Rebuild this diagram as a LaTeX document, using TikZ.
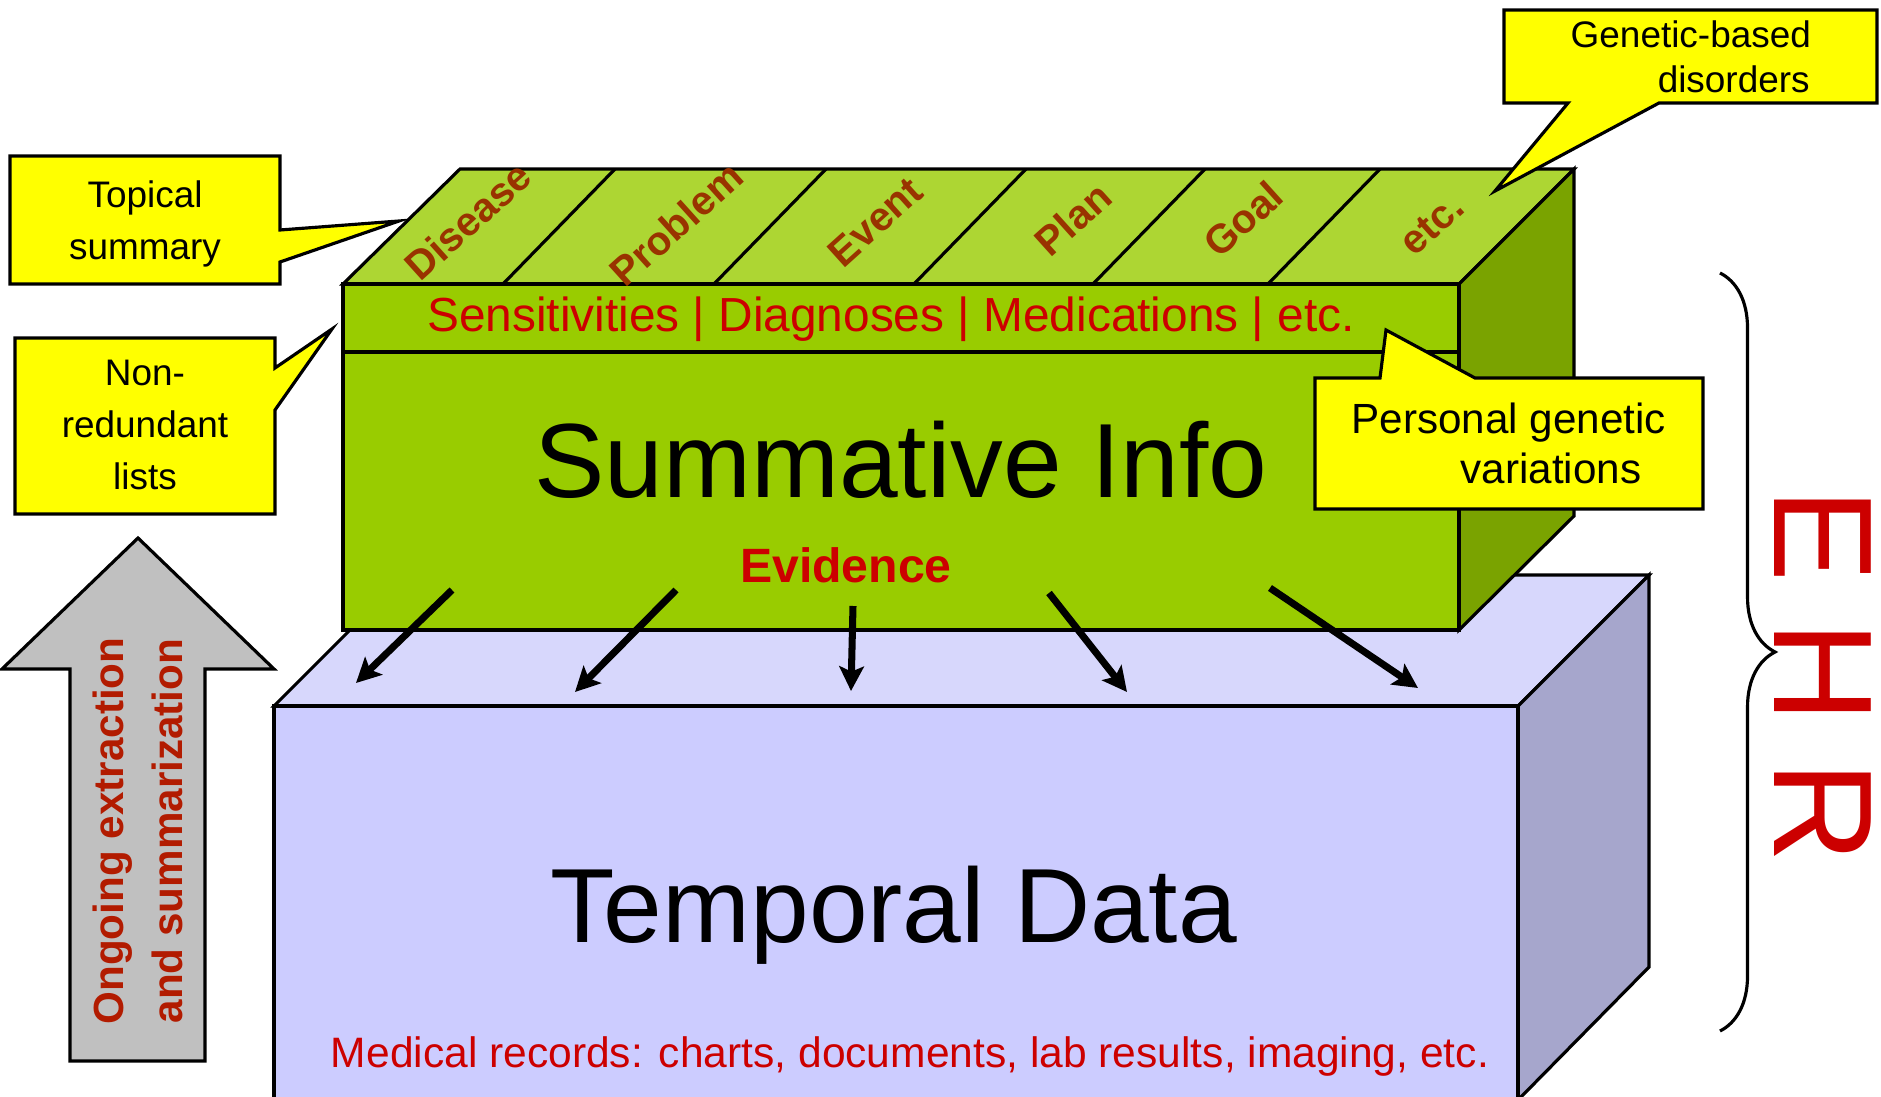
\documentclass[tikz,border=0pt]{standalone}
\usepackage{fontspec}
\setmainfont{Liberation Sans}
\usetikzlibrary{arrows.meta, decorations.pathreplacing}
\definecolor{summgreen}{RGB}{153,204,0}
\definecolor{summgreentop}{RGB}{173,214,51}
\definecolor{summgreenside}{RGB}{122,163,0}
\definecolor{tempblue}{RGB}{204,204,255}
\definecolor{tempbluetop}{RGB}{215,215,252}
\definecolor{tempblueside}{RGB}{166,166,204}
\definecolor{noteyellow}{RGB}{255,255,0}
\definecolor{myred}{RGB}{204,0,0}
\definecolor{topicbrown}{RGB}{153,51,0}
\definecolor{arrowred}{RGB}{178,27,0}
\definecolor{arrowgrey}{RGB}{192,192,192}

\begin{document}
\begin{tikzpicture}[x=0.01cm, y=-0.01cm, >={Stealth[length=7pt, width=7pt, inset=1.5pt]}]

	\tikzstyle{face}=[draw=black, line width=0.9pt]
	\tikzstyle{note}=[draw=black, line width=0.9pt, fill=noteyellow]
	\tikzstyle{txt}=[inner sep=0pt]
	\tikzstyle{topic}=[txt, rotate=42, text=topicbrown, font=\bfseries\fontsize{11.5}{13}\selectfont]
	\tikzstyle{noteleft}=[txt, align=center, font=\fontsize{10.5}{14.8}\selectfont]
	\tikzstyle{evidence}=[->, line width=2pt]

	\useasboundingbox (0,0) rectangle (1881,1097);

	% temporal data block
	\filldraw[face, fill=tempbluetop] (274,706) -- (405,575) -- (1649,575) -- (1518,706) -- cycle;
	\filldraw[face, fill=tempblueside] (1518,706) -- (1649,575) -- (1649,967) -- (1518,1100) -- cycle;
	\filldraw[face, fill=tempblue] (274,706) rectangle (1518,1100);

	% summative info block
	\filldraw[face, fill=summgreentop] (343,284) -- (460,169) -- (1574,169) -- (1459,284) -- cycle;
	\filldraw[face, fill=summgreenside] (1459,284) -- (1574,169) -- (1574,516) -- (1459,630) -- cycle;
	\filldraw[face, fill=summgreen] (343,284) rectangle (1459,630);
	\draw[face] (343,352) -- (1459,352);
	\foreach \x in {503,714,914,1093,1268}
		\draw[face] (\x,284) -- ++(112,-115);

	\foreach \name/\x/\y [count=\i] in {Disease/468/221, Problem/676/224, Event/875/222, Plan/1073/219, Goal/1243/219, etc./1432/225}
		\node at (\x,\y) (topic\i) [topic] {\name};

	\node at (891,332) (lists) [txt, anchor=base, text=myred, font=\fontsize{13.6}{16}\selectfont] {Sensitivities | Diagnoses | Medications | etc.};
	\node at (901,498) (summative) [txt, anchor=base, font=\fontsize{30}{36}\selectfont] {Summative Info};
	\node at (846,582) (evidence) [txt, anchor=base, text=myred, font=\bfseries\fontsize{13.7}{17}\selectfont] {Evidence};
	\node at (894,942) (temporal) [txt, anchor=base, font=\fontsize{30}{36}\selectfont] {Temporal Data};
	\node at (910,1067) (records) [txt, anchor=base, text=myred, font=\fontsize{12.1}{15}\selectfont] {Medical records: charts, documents, lab results, imaging, etc.};

	% evidence arrows
	\foreach \sx/\sy/\ex/\ey [count=\i] in {452/590/356/683, 676/590/575/692, 853/606/851/691, 1049/593/1127/692, 1270/588/1418/688}
	{
		\coordinate (from\i) at (\sx,\sy);
		\coordinate (to\i) at (\ex,\ey);
		\draw[evidence] (from\i) -- (to\i);
	}

	% callouts
	\filldraw[note] (10,156) -- (280,156) -- (280,230) -- (399,221) -- (280,262) -- (280,284) -- (10,284) -- cycle;
	\node at (145,224) (topical) [noteleft] {Topical\\summary};
	\filldraw[note] (15,338) -- (275,338) -- (275,368) -- (332,329) -- (275,410) -- (275,514) -- (15,514) -- cycle;
	\node at (145,425) (nonredundant) [noteleft] {Non-\\redundant\\lists};
	\filldraw[note] (1504,10) -- (1877,10) -- (1877,103) -- (1659,103) -- (1495,191) -- (1568,103) -- (1504,103) -- cycle;
	\node at (1570,20) (genetic) [txt, anchor=north west, align=left, font=\fontsize{10.5}{12.8}\selectfont] {Genetic-based\\\hspace*{0.87cm}disorders};
	\filldraw[note] (1315,378) -- (1380,378) -- (1386,330) -- (1475,378) -- (1703,378) -- (1703,509) -- (1315,509) -- cycle;
	\node at (1351,402) (personal) [txt, anchor=north west, align=left, font=\fontsize{12}{14.2}\selectfont] {Personal genetic\\\hspace*{1.09cm}variations};

	% extraction arrow
	\filldraw[draw=black, line width=0.9pt, fill=arrowgrey] (70,1061) -- (70,669) -- (2,669) -- (138,538) -- (274,669) -- (205,669) -- (205,1061) -- cycle;
	\node at (138,831) (ongoing) [txt, rotate=90, align=center, text=arrowred, font=\bfseries\fontsize{12}{17}\selectfont] {Ongoing extraction\\and summarization};

	% EHR brace
	\coordinate (bracetop) at (1720,273);
	\coordinate (bracebottom) at (1720,1031);
	\draw[line width=0.9pt, decorate, decoration={brace, amplitude=0.55cm}] (bracetop) -- (bracebottom);
	\node at (1823,676) (ehr) [txt, rotate=-90, text=myred, font=\fontsize{40}{48}\selectfont] {E H R};
\end{tikzpicture}
\end{document}
